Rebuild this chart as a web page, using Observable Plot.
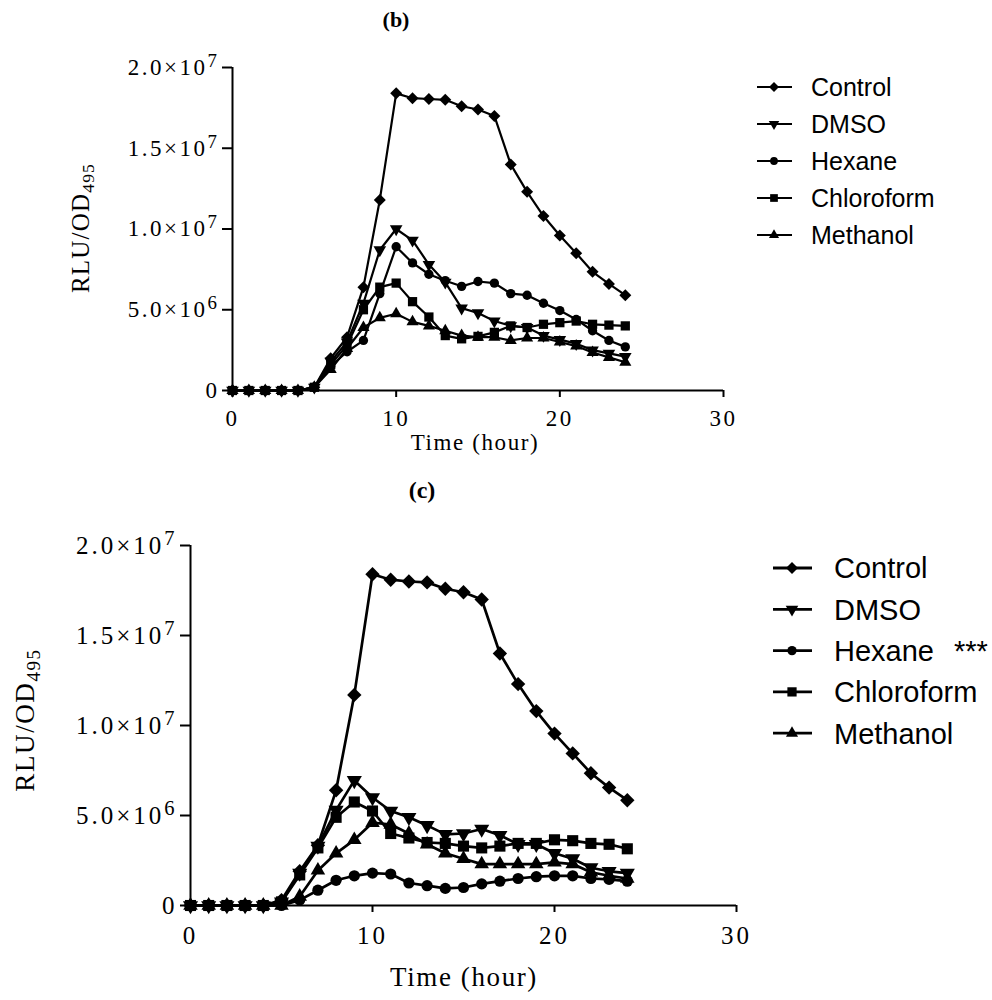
<!DOCTYPE html>
<html>
<head>
<meta charset="utf-8">
<script src="https://cdn.jsdelivr.net/npm/d3@7"></script>
<script src="https://cdn.jsdelivr.net/npm/@observablehq/plot@0.6"></script>
<style>
  body { margin: 0; background: #fff; }
  #page { position: relative; width: 992px; height: 1000px; overflow: hidden; background: #fff; }
  .panel { position: absolute; left: 0; }
  .title { position: absolute; font-family: "Liberation Serif", "Times New Roman", serif; font-weight: bold; transform: translate(-50%, -50%); line-height: 1; }
</style>
</head>
<body>
<div id="page">
  <div class="title" style="left:396px; top:20px; font-size:22px">(b)</div>
  <div id="b" class="panel" style="top:40px"></div>
  <div class="title" style="left:422px; top:490px; font-size:24px">(c)</div>
  <div id="c" class="panel" style="top:505px"></div>
</div>
<script>
// time points (hour)
const hours = [0, 1, 2, 3, 4, 5, 6, 7, 8, 9, 10, 11, 12, 13, 14, 15, 16, 17, 18, 19, 20, 21, 22, 23, 24];
const seriesNames = ["Control", "DMSO", "Hexane", "Chloroform", "Methanol"];

// panel (b), RLU/OD495
const controlB = [0, 0, 0, 0, 0, 0.2e6, 2.0e6, 3.3e6, 6.4e6, 11.8e6, 18.4e6, 18.1e6, 18.05e6, 18.0e6, 17.6e6, 17.4e6, 17.0e6, 14.0e6, 12.3e6, 10.8e6, 9.6e6, 8.5e6, 7.35e6, 6.6e6, 5.9e6];
const dmsoB = [0, 0, 0, 0, 0, 0.2e6, 1.8e6, 3.0e6, 5.4e6, 8.7e6, 10.0e6, 9.3e6, 7.8e6, 6.7e6, 5.1e6, 4.8e6, 4.3e6, 4.0e6, 3.9e6, 3.4e6, 3.15e6, 2.9e6, 2.5e6, 2.3e6, 2.1e6];
const hexaneB = [0, 0, 0, 0, 0, 0.2e6, 1.5e6, 2.4e6, 3.1e6, 6.0e6, 8.9e6, 7.9e6, 7.2e6, 6.8e6, 6.45e6, 6.75e6, 6.65e6, 6.0e6, 5.9e6, 5.4e6, 4.95e6, 4.4e6, 3.7e6, 3.1e6, 2.7e6];
const chloroformB = [0, 0, 0, 0, 0, 0.2e6, 1.6e6, 2.8e6, 5.0e6, 6.4e6, 6.65e6, 5.5e6, 4.55e6, 3.4e6, 3.2e6, 3.35e6, 3.6e6, 4.0e6, 3.9e6, 4.1e6, 4.2e6, 4.3e6, 4.1e6, 4.05e6, 4.0e6];
const methanolB = [0, 0, 0, 0, 0, 0.2e6, 1.3e6, 2.6e6, 3.9e6, 4.5e6, 4.75e6, 4.25e6, 4.0e6, 3.7e6, 3.4e6, 3.3e6, 3.3e6, 3.1e6, 3.25e6, 3.25e6, 3.0e6, 2.75e6, 2.35e6, 2.05e6, 1.75e6];

// panel (c), RLU/OD495
const controlC = [0, 0, 0, 0, 0, 0.3e6, 1.9e6, 3.35e6, 6.4e6, 11.7e6, 18.4e6, 18.1e6, 18.0e6, 17.95e6, 17.6e6, 17.4e6, 17.0e6, 14.0e6, 12.3e6, 10.8e6, 9.55e6, 8.45e6, 7.35e6, 6.55e6, 5.85e6];
const dmsoC = [0, 0, 0, 0, 0, 0.2e6, 1.8e6, 3.3e6, 5.3e6, 6.95e6, 6.0e6, 5.25e6, 4.9e6, 4.45e6, 3.95e6, 4.0e6, 4.25e6, 3.9e6, 3.4e6, 3.4e6, 2.9e6, 2.6e6, 2.1e6, 1.9e6, 1.8e6];
const hexaneC = [0, 0, 0, 0, 0, 0, 0.3e6, 0.85e6, 1.4e6, 1.65e6, 1.8e6, 1.75e6, 1.25e6, 1.1e6, 0.95e6, 1.0e6, 1.2e6, 1.35e6, 1.5e6, 1.6e6, 1.65e6, 1.65e6, 1.5e6, 1.45e6, 1.35e6];
const chloroformC = [0, 0, 0, 0, 0, 0.2e6, 1.7e6, 3.2e6, 4.9e6, 5.75e6, 5.25e6, 4.0e6, 3.75e6, 3.5e6, 3.45e6, 3.3e6, 3.2e6, 3.3e6, 3.45e6, 3.45e6, 3.65e6, 3.6e6, 3.45e6, 3.4e6, 3.15e6];
const methanolC = [0, 0, 0, 0, 0, 0, 0.5e6, 1.95e6, 2.9e6, 3.65e6, 4.6e6, 4.5e6, 4.0e6, 3.4e6, 2.9e6, 2.6e6, 2.3e6, 2.3e6, 2.3e6, 2.3e6, 2.4e6, 2.3e6, 1.85e6, 1.65e6, 1.5e6];

const legendNotesC = ["", "", "***", "", ""];

const xTicks = [0, 10, 20, 30];
const yTicks = [0, 5e6, 1e7, 1.5e7, 2e7];
const yTickText = ["0", "5.0×10^6", "1.0×10^7", "1.5×10^7", "2.0×10^7"];

// no downward triangle in d3, so flip the stock one
const triangleDown = {
  draw(context, size) {
    const y = -Math.sqrt(size / (Math.sqrt(3) * 3));
    context.moveTo(0, -y * 2);
    context.lineTo(-Math.sqrt(3) * y, y);
    context.lineTo(Math.sqrt(3) * y, y);
    context.closePath();
  },
};
const symbols = [d3.symbolDiamond2, triangleDown, d3.symbolCircle, d3.symbolSquare, d3.symbolTriangle];
const radii = [6, 5.2, 5.2, 5.8, 5.0];

const serif = "Liberation Serif, Times New Roman, serif";
const sans = "Liberation Sans, Arial, sans-serif";

function drawPanel(values, cfg) {
  const marks = [
    Plot.axisY(yTicks, {
      tickSize: 10, tickPadding: cfg.yPad, strokeWidth: 2, label: null, fontSize: cfg.tick,
      tickFormat: (d) => yTickText[yTicks.indexOf(d)],
    }),
    Plot.axisX(xTicks, { tickSize: 7, tickPadding: cfg.xPad, strokeWidth: 2, label: null, fontSize: cfg.tick }),
    Plot.ruleX([xTicks[0]], { y1: yTicks[0], y2: yTicks[yTicks.length - 1], strokeWidth: 2 }),
    Plot.ruleY([yTicks[0]], { x1: xTicks[0], x2: xTicks[xTicks.length - 1], strokeWidth: 2 }),
  ];
  values.forEach((vals, i) => {
    const rows = hours.map((h, j) => ({ hour: h, value: vals[j] }));
    marks.push(Plot.line(rows, { x: "hour", y: "value", stroke: "black", strokeWidth: cfg.line }));
    marks.push(Plot.dot(rows, { x: "hour", y: "value", symbol: symbols[i], fill: "black", stroke: "none", r: radii[i] * cfg.dot }));
  });

  const svg = Plot.plot({
    width: cfg.width,
    height: cfg.height,
    marginLeft: cfg.ml,
    marginRight: cfg.mr,
    marginTop: cfg.mt,
    marginBottom: cfg.mb,
    x: { domain: [xTicks[0], xTicks[xTicks.length - 1]] },
    y: { domain: [yTicks[0], yTicks[yTicks.length - 1]] },
    style: { fontFamily: serif, color: "black", background: "white", overflow: "visible" },
    marks,
  });

  const s = d3.select(svg);
  s.selectAll('g[aria-label="x-axis tick label"], g[aria-label="y-axis tick label"]')
    .attr("letter-spacing", cfg.spacing);
  // 2.0×10^7 -> superscript exponent
  s.selectAll('g[aria-label="y-axis tick label"] text').each(function () {
    const parts = this.textContent.split("^");
    if (parts.length < 2) return;
    const t = d3.select(this).text(null);
    t.append("tspan").text(parts[0]);
    t.append("tspan").attr("dy", "-0.42em").attr("font-size", "82%").text(parts[1]);
  });

  // y label RLU/OD495
  const yl = s.append("text")
    .attr("transform", `translate(${cfg.ylx},${cfg.yly}) rotate(-90)`)
    .attr("text-anchor", "middle")
    .attr("font-family", serif)
    .attr("font-size", cfg.ylFont)
    .attr("letter-spacing", cfg.ylSpacing)
    .attr("fill", "black");
  yl.append("tspan").text("RLU/OD");
  yl.append("tspan").attr("dy", "0.3em").attr("font-size", "70%").text("495");

  // x label
  s.append("text")
    .attr("x", cfg.xlx).attr("y", cfg.xly)
    .attr("text-anchor", "middle")
    .attr("dy", "0.35em")
    .attr("font-family", serif)
    .attr("font-size", cfg.xlFont)
    .attr("letter-spacing", cfg.xlSpacing)
    .attr("fill", "black")
    .text("Time (hour)");

  return svg;
}

function drawLegend(labels, notes, cfg) {
  const svg = d3.create("svg")
    .attr("width", cfg.w).attr("height", cfg.h)
    .style("position", "absolute").style("left", cfg.left + "px").style("top", cfg.top + "px");
  labels.forEach((name, i) => {
    const y = cfg.y0 + i * cfg.dy;
    svg.append("line")
      .attr("x1", cfg.x1).attr("x2", cfg.x2).attr("y1", y).attr("y2", y)
      .attr("stroke", "black").attr("stroke-width", cfg.line);
    svg.append("path")
      .attr("transform", `translate(${cfg.mx},${y})`)
      .attr("d", d3.symbol(symbols[i], Math.PI * (radii[i] * cfg.dot) ** 2)())
      .attr("fill", "black");
    const t = svg.append("text")
      .attr("x", cfg.tx).attr("y", y).attr("dy", "0.36em")
      .attr("font-family", sans).attr("font-size", cfg.font).attr("fill", "black")
      .text(name);
    if (notes && notes[i]) t.append("tspan").attr("dx", cfg.noteDx).text(notes[i]);
  });
  return svg.node();
}

const page = document.querySelector("#page");

document.querySelector("#b").append(drawPanel(
  [controlB, dmsoB, hexaneB, chloroformB, methanolB],
  {
    width: 745, height: 440, ml: 232, mr: 22, mt: 27, mb: 90,
    tick: 23, spacing: "2.5px", yPad: 3, xPad: 12, line: 2.2, dot: 0.9,
    ylx: 89, yly: 188, ylFont: 25, ylSpacing: "1.2px",
    xlx: 475, xly: 402, xlFont: 23, xlSpacing: "1.6px",
  }
));

document.querySelector("#c").append(drawPanel(
  [controlC, dmsoC, hexaneC, chloroformC, methanolC],
  {
    width: 760, height: 495, ml: 190, mr: 24, mt: 40, mb: 95,
    tick: 25, spacing: "3px", yPad: 3, xPad: 14, line: 2.7, dot: 1.08,
    ylx: 34, yly: 215, ylFont: 27, ylSpacing: "1.6px",
    xlx: 464, xly: 472, xlFont: 27, xlSpacing: "1.6px",
  }
));

page.append(drawLegend(seriesNames, null, {
  left: 740, top: 60, w: 252, h: 200,
  y0: 27, dy: 37, x1: 17, x2: 52, mx: 34, tx: 71, font: 25, line: 2.2, dot: 0.75,
}));

page.append(drawLegend(seriesNames, legendNotesC, {
  left: 760, top: 540, w: 232, h: 220,
  y0: 28, dy: 41.3, x1: 13, x2: 52, mx: 32, tx: 74, font: 29, line: 2.8, dot: 0.9, noteDx: 20,
}));
</script>
</body>
</html>
